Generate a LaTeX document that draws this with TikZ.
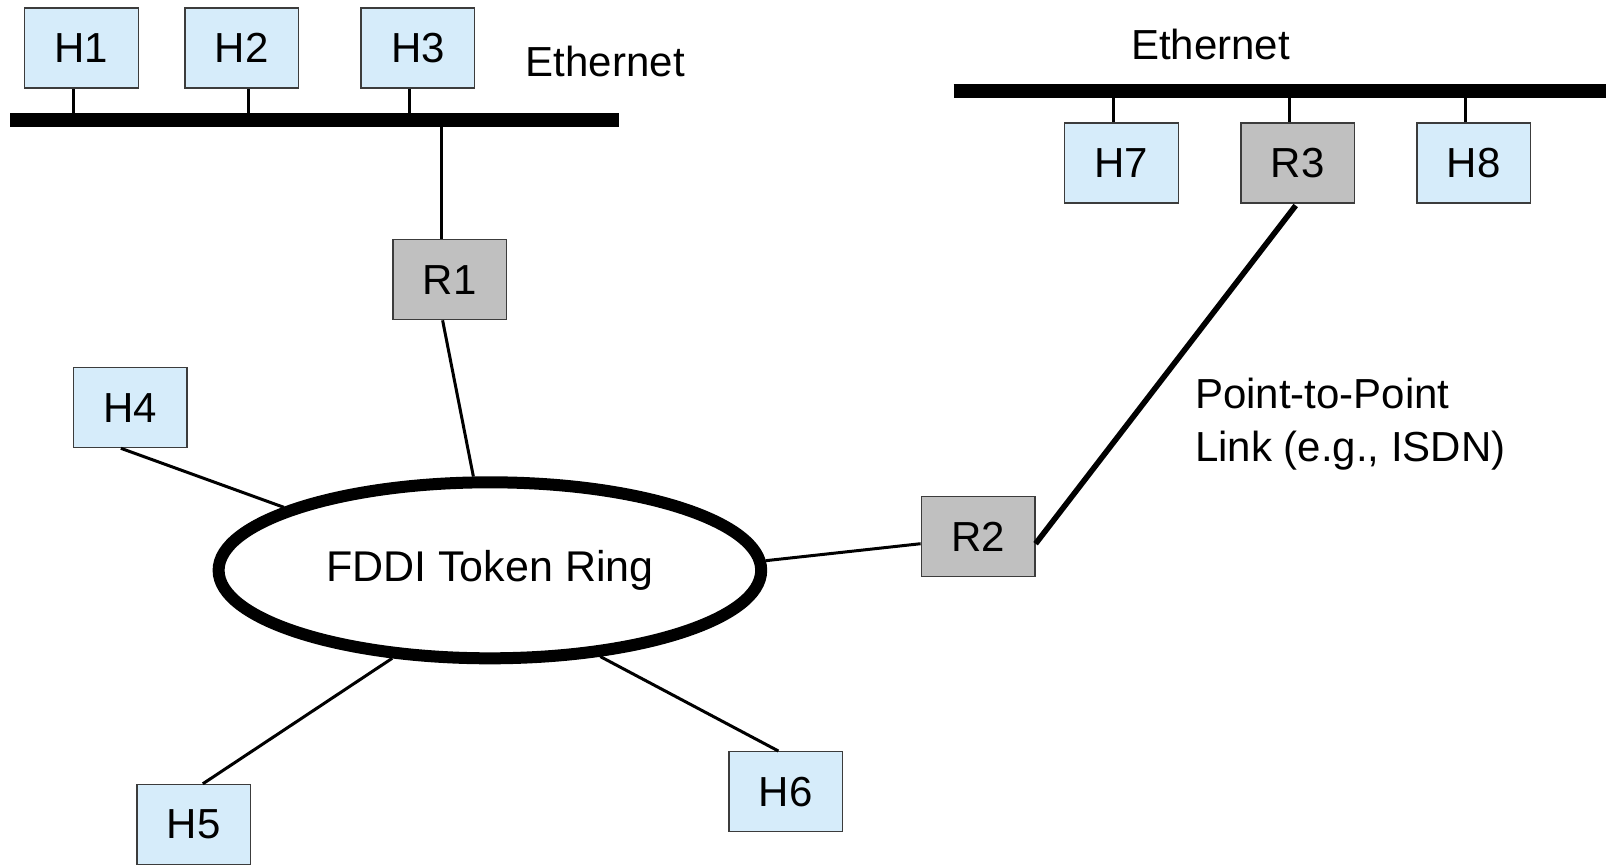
\documentclass[tikz,border=0pt]{standalone}
\usepackage{fontspec}
\setmainfont{Liberation Sans}
\usetikzlibrary{shapes.geometric}

\definecolor{hostblue}{RGB}{214,236,250}
\definecolor{routergray}{RGB}{192,192,192}
\definecolor{boxline}{RGB}{60,60,60}

\begin{document}
\begin{tikzpicture}[x=0.5pt,y=-0.5pt,
  box/.style={draw=boxline, line width=0.7pt, minimum width=56.8pt, minimum height=40pt, inner sep=0pt, font=\fontsize{21}{25}\selectfont},
  host/.style={box, fill=hostblue},
  router/.style={box, fill=routergray},
  link/.style={line width=1.5pt},
  bus/.style={line width=7.2pt},
  label/.style={font=\fontsize{21}{25}\selectfont}]
\useasboundingbox (0,0) rectangle (1606,864);

% left ethernet
\node[host] (h1) at (81.4,48.1) {H1};
\node[host] (h2) at (241.7,48.1) {H2};
\node[host] (h3) at (417.9,48.1) {H3};
\node[label] (eth1) at (605.3,61.5) {Ethernet};
\coordinate (lan1w) at (10.2,119.8);
\coordinate (lan1e) at (618.6,119.8);
\path[draw,bus] (lan1w) -- (lan1e);
\coordinate (s1) at (73.7,119.8);
\coordinate (s2) at (248.9,119.8);
\coordinate (s3) at (409.7,119.8);
\coordinate (s4) at (441.4,119.8);
\path[draw,link] (h1.south -| s1) -- (s1);
\path[draw,link] (h2.south -| s2) -- (s2);
\path[draw,link] (h3.south -| s3) -- (s3);

\node[router] (r1) at (449.6,279.6) {R1};
\path[draw,link] (s4) -- (s4 |- r1.north);

% token ring
\node[draw, ellipse, line width=6pt, minimum width=271.3pt, minimum height=88pt, inner sep=0pt, label, font=\fontsize{21.5}{25}\selectfont] (ring) at (489.9,570.3) {FDDI Token Ring};
\path[draw,link] (ring.100) -- ([xshift=-3.5pt]r1.south);

\node[host] (h4) at (130.1,407.6) {H4};
\path[draw,link] (ring.163.6) -- ([xshift=-4.6pt]h4.south);
\node[host] (h5) at (193.6,824.5) {H5};
\path[draw,link] (ring.222.5) -- ([xshift=4.6pt]h5.north);
\node[host] (h6) at (785.6,791.7) {H6};
\path[draw,link] (ring.322) -- ([xshift=-3.6pt]h6.north);

\node[router] (r2) at (978.1,536.7) {R2};
\path[draw,link] (ring.2.3) -- ([yshift=-3.5pt]r2.west);

% right ethernet
\node[label] (eth2) at (1210.6,44) {Ethernet};
\coordinate (lan2w) at (953.5,91.2);
\coordinate (lan2e) at (1606,91.2);
\path[draw,bus] (lan2w) -- (lan2e);
\node[host] (h7) at (1121.5,162.8) {H7};
\node[router] (r3) at (1297.7,162.8) {R3};
\node[host] (h8) at (1473.8,162.8) {H8};
\coordinate (s7) at (1113.3,91.2);
\coordinate (s8) at (1289.4,91.2);
\coordinate (s9) at (1465.6,91.2);
\path[draw,link] (h7.north -| s7) -- (s7);
\path[draw,link] (r3.north -| s8) -- (s8);
\path[draw,link] (h8.north -| s9) -- (s9);

% point-to-point link
\path[draw,line width=2.8pt] ([yshift=-3.5pt]r2.east) -- ([xshift=-1pt,yshift=-1pt]r3.south);
\node[label, anchor=west, align=left, font=\fontsize{21}{26.7}\selectfont] (ptp) at (1188,424) {Point-to-Point\\Link (e.g., ISDN)};
\end{tikzpicture}
\end{document}
